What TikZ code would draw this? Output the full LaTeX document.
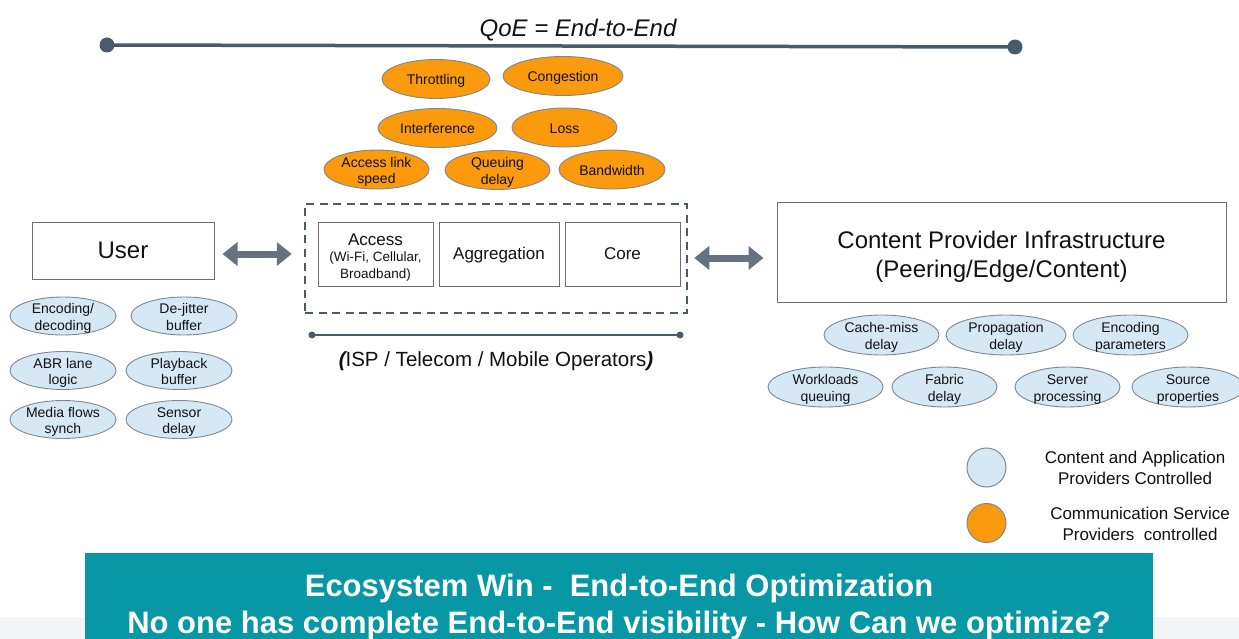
\documentclass[tikz,border=0pt]{standalone}
\usepackage{fontspec}
\setmainfont{Liberation Sans}
\usetikzlibrary{shapes.geometric,arrows.meta}
\definecolor{slate}{HTML}{4B5A69}
\definecolor{arrowgray}{HTML}{66737F}
\definecolor{csporange}{HTML}{FA9A0C}
\definecolor{caplblue}{HTML}{D7E8F5}
\definecolor{ovalborder}{HTML}{7D8893}
\definecolor{boxborder}{HTML}{6E6E6E}
\definecolor{bannerteal}{HTML}{0797A5}
\definecolor{stripgray}{HTML}{F3F4F6}
\definecolor{inktext}{HTML}{111111}
% line-box struts: text is centred on the font's ascent and descent
\newcommand{\linestrut}{\rule[-0.212em]{0pt}{1.117em}}
\newcommand{\tallstrut}{\rule[-0.212em]{0pt}{1.262em}}
\tikzset{
  struts/.style={execute at begin node=\linestrut, execute at end node=\linestrut},
  tallstruts/.style={execute at begin node=\tallstrut, execute at end node=\linestrut},
  % ovals keep their fixed size: the negative vertical sep stops the text from growing them
  oval/.style={ellipse, draw=ovalborder, line width=0.9pt, inner xsep=0pt, inner ysep=-8pt,
    tallstruts, align=center, text=inktext, font=\fontsize{14}{16.5}\selectfont},
  cspoval/.style={oval, fill=csporange, minimum height=39pt},
  capoval/.style={oval, fill=caplblue, minimum height=38pt},
  plainbox/.style={rectangle, draw=boxborder, line width=1pt, inner sep=0pt,
    align=center, text=inktext},
  bigarrow/.style={draw=arrowgray, line width=7pt,
    {Triangle[length=15pt,width=23pt]}-{Triangle[length=15pt,width=23pt]}},
  legenddot/.style={circle, draw=ovalborder, line width=1pt, minimum size=39pt, inner sep=0pt},
  legendtext/.style={align=center, text=inktext, font=\fontsize{17}{21}\selectfont},
  bannertext/.style={text=white, font=\fontsize{31}{37}\selectfont\bfseries},
}
\begin{document}
\begin{tikzpicture}[x=1pt,y=-1pt]
\useasboundingbox (0,0) rectangle (1239,639);

% bottom strip and banner
\fill[stripgray] (0,617) rectangle (1239,639);
\fill[bannerteal] (85,553) rectangle (1153,645);
\node[bannertext] (win) at (619,588) {Ecosystem Win -~ End-to-End Optimization};
\node[bannertext] (ask) at (619,625) {No one has complete End-to-End visibility - How Can we optimize?};

% end-to-end span
\coordinate (qoeL) at (107,45);
\coordinate (qoeR) at (1015,47);
\draw[slate, line width=3.5pt] (qoeL) -- (qoeR);
\fill[slate] (qoeL) circle (7.5pt) (qoeR) circle (7.5pt);
\node[text=inktext, font=\fontsize{24}{28}\selectfont\itshape] (qoe) at (578,30) {QoE = End-to-End};

% network-side impairments
\node[cspoval, minimum width=108pt] (thr) at (436,79) {Throttling};
\node[cspoval, minimum width=120pt] (cong) at (563,76) {Congestion};
\node[cspoval, minimum width=119pt] (intf) at (437.5,128) {Interference};
\node[cspoval, minimum width=105pt] (loss) at (564.5,127.5) {Loss};
\node[cspoval, minimum width=105pt] (als) at (376.5,169.5) {\tallstrut Access link\\speed};
\node[cspoval, minimum width=105pt] (qd) at (497.5,170) {\tallstrut Queuing\\delay};
\node[cspoval, minimum width=106pt] (bw) at (612,169.5) {Bandwidth};

% operator network
\node[rectangle, draw=slate, line width=2.5pt, dash pattern=on 8pt off 5.5pt,
  minimum width=382pt, minimum height=109pt, inner sep=0pt] (isp) at (496,258.5) {};
\node[plainbox, minimum width=115pt, minimum height=64pt,
  font=\fontsize{13.5}{16.5}\selectfont] (acc) at (375.5,254)
  {{\fontsize{17}{18}\selectfont\tallstrut Access}\\(Wi-Fi, Cellular,\\Broadband)};
\node[plainbox, struts, minimum width=120pt, minimum height=64pt,
  font=\fontsize{17}{20}\selectfont] (agg) at (499,254) {Aggregation};
\node[plainbox, minimum width=115pt, minimum height=64pt,
  font=\fontsize{17}{20}\selectfont] (core) at (622.5,254) {Core};

\coordinate (ispL) at (312,335);
\coordinate (ispR) at (680,335);
\draw[slate, line width=1.5pt] (ispL) -- (ispR);
\fill[slate] (ispL) circle (3.5pt) (ispR) circle (3.5pt);
\node[text=inktext, struts, font=\fontsize{20.5}{24}\selectfont] (ispname) at (496,359)
  {{\bfseries\itshape(}ISP / Telecom / Mobile Operators{\bfseries\itshape)}};

% user side
\node[plainbox, minimum width=182pt, minimum height=57pt,
  font=\fontsize{24}{28}\selectfont] (user) at (123,250.5) {User};
\node[capoval, minimum width=106pt] (enc) at (63,316) {\tallstrut Encoding/\\decoding};
\node[capoval, minimum width=106pt] (dej) at (184,316) {\tallstrut De-jitter\\buffer};
\node[capoval, minimum width=106pt] (abr) at (63,370.5) {\tallstrut ABR lane\\logic};
\node[capoval, minimum width=106pt] (play) at (179,370.5) {\tallstrut Playback\\buffer};
\node[capoval, minimum width=106pt] (mfs) at (63,419.5) {\tallstrut Media flows\\synch};
\node[capoval, minimum width=106pt] (sens) at (179,419.5) {\tallstrut Sensor\\delay};

% content side
\node[plainbox, minimum width=449pt, minimum height=99pt,
  font=\fontsize{24}{29}\selectfont] (cpi) at (1001.5,252.5)
  {\tallstrut Content Provider Infrastructure\\(Peering/Edge/Content)};
\node[capoval, minimum width=115pt, minimum height=40pt] (cache) at (881.5,335) {\tallstrut Cache-miss\\delay};
\node[capoval, minimum width=120pt, minimum height=40pt] (prop) at (1006,335) {\tallstrut Propagation\\delay};
\node[capoval, minimum width=115pt, minimum height=40pt] (encp) at (1130.5,335) {\tallstrut Encoding\\parameters};
\node[capoval, minimum width=115pt, minimum height=40pt] (work) at (825.5,387) {\tallstrut Workloads\\queuing};
\node[capoval, minimum width=105pt, minimum height=40pt] (fab) at (944.5,387) {\tallstrut Fabric\\delay};
\node[capoval, minimum width=105pt, minimum height=40pt] (serv) at (1067.5,387) {\tallstrut Server\\processing};
\node[capoval, minimum width=112pt, minimum height=40pt] (src) at (1188,387) {\tallstrut Source\\properties};

% links between the domains
\draw[bigarrow, shorten <=8pt, shorten >=12pt] (user.east |- agg.center) -- (isp.west |- agg.center);
\coordinate (rightlink) at (0,258);
\draw[bigarrow, shorten <=6pt, shorten >=13pt] (isp.east |- rightlink) -- (cpi.west |- rightlink);

% legend
\node[legenddot, fill=caplblue] (keycap) at (986.5,467.5) {};
\node[legenddot, fill=csporange] (keycsp) at (986.5,523) {};
\node[legendtext] (keycaptext) at (1135,467.5) {Content and Application\\Providers Controlled};
\node[legendtext] (keycsptext) at (1140,523.5) {Communication Service\\Providers~ controlled};
\end{tikzpicture}
\end{document}
